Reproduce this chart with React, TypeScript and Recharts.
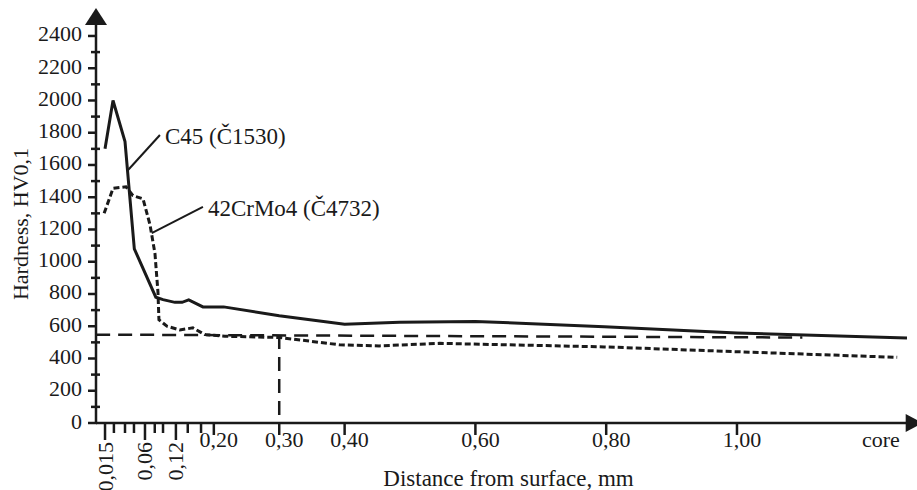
import { LineChart, Line, XAxis, YAxis, ReferenceLine, ReferenceDot } from "recharts"

// distances in mm, hardness in HV0,1
const C45_MM = [0.015, 0.024, 0.0375, 0.048, 0.081, 0.095, 0.118, 0.133, 0.147, 0.177, 0.215, 0.3, 0.4, 0.484, 0.6, 0.797, 1.0, 1.26]
const C45_HV = [1700, 2000, 1745, 1080, 780, 765, 748, 748, 763, 720, 720, 665, 612, 624, 630, 597, 558, 527]

const CRMO_MM = [0.014, 0.024, 0.0386, 0.0465, 0.0578, 0.0697, 0.0794, 0.0852, 0.0871, 0.1026, 0.1284, 0.1558, 0.181, 0.217, 0.301, 0.392, 0.453, 0.545, 0.797, 1.0, 1.245]
const CRMO_HV = [1300, 1455, 1465, 1410, 1390, 1230, 1050, 810, 640, 600, 577, 590, 548, 538, 530, 485, 478, 494, 472, 442, 407]

const LIMIT_MM = [0.005, 1.1]
const LIMIT_HV = [548, 530]

const X_LABELS = ["0,015", "0,06", "0,12", "0,20", "0,30", "0,40", "0,60", "0,80", "1,00", "core"]
const X_LABEL_MM = [0.015, 0.06, 0.12, 0.2, 0.3, 0.4, 0.6, 0.8, 1.0, 1.22]
const X_MINOR_MM = [0.025, 0.0375, 0.0476, 0.079, 0.095, 0.145, 0.173]
const Y_TICKS = Array.from({ length: 25 }, (_, i) => i * 100)

// the axis is stretched below 0,20 mm
const WARP_MM = [0.015, 0.06, 0.12, 0.2]
const WARP_POS = [0.0336, 0.0947, 0.142, 0.2]
function warp(mm: number) {
  if (mm >= 0.2) return mm
  let i = 0
  while (i < WARP_MM.length - 2 && mm > WARP_MM[i + 1]) i++
  const t = (mm - WARP_MM[i]) / (WARP_MM[i + 1] - WARP_MM[i])
  return WARP_POS[i] + t * (WARP_POS[i + 1] - WARP_POS[i])
}

const U_MIN = 0.0198
const U_MAX = 1.258
const Y_MAX = 2468
const INK = "#1a1a1a"
const FONT = "'Liberation Serif', 'Times New Roman', serif"

const toRows = (mm: number[], hv: number[]) => mm.map((m, i) => ({ u: warp(m), hv: hv[i] }))
const c45 = toRows(C45_MM, C45_HV)
const crmo = toRows(CRMO_MM, CRMO_HV)
const limit = toRows(LIMIT_MM, LIMIT_HV)

const xTicks = [...X_LABEL_MM, ...X_MINOR_MM].map(warp)

function XTick({ x, y, payload }: any) {
  const idx = X_LABEL_MM.findIndex((m) => Math.abs(warp(m) - payload.value) < 1e-6)
  const label = idx >= 0 ? X_LABELS[idx] : null
  const rotated = idx >= 0 && idx < 3
  if (label === "core") {
    return <text x={x} y={y + 24} textAnchor="middle" fontSize={22} fontFamily={FONT} fill={INK}>{label}</text>
  }
  const len = rotated ? 17 : label ? 12 : 10
  return (
    <g>
      <line x1={x} x2={x} y1={y} y2={y + len} stroke={INK} strokeWidth={2.5} />
      {label && rotated && (
        <text x={x} y={y + 19} transform={`rotate(-90 ${x} ${y + 19})`} textAnchor="end" dominantBaseline="central"
          fontSize={22} fontFamily={FONT} fill={INK}>{label}</text>
      )}
      {label && !rotated && (
        <text x={x + 5} y={y + 24} textAnchor="middle" fontSize={22} fontFamily={FONT} fill={INK}>{label}</text>
      )}
    </g>
  )
}

function YTick({ x, y, payload }: any) {
  const major = payload.value % 200 === 0
  return (
    <g>
      <line x1={major ? x - 8 : x - 5} x2={major ? x + 1 : x + 4} y1={y} y2={y} stroke={INK} strokeWidth={2.5} />
      {major && (
        <text x={x - 14} y={y - 2} textAnchor="end" dominantBaseline="central" fontSize={22} fontFamily={FONT} fill={INK}>
          {payload.value}
        </text>
      )}
    </g>
  )
}

const Note = (text: string) => (p: any) => (
  <text x={p.cx + 5} y={p.cy + 2} dominantBaseline="central" fontSize={23} fontFamily={FONT} fill={INK}>{text}</text>
)

export default function App() {
  return (
    <div style={{ position: "absolute", left: 0, top: 0, width: 917, height: 490, background: "#fff" }}>
      <LineChart width={917} height={490} margin={{ top: 25, right: 10, left: 0, bottom: 0 }}>
        <XAxis
          type="number"
          dataKey="u"
          domain={[U_MIN, U_MAX]}
          ticks={xTicks}
          interval={0}
          tick={<XTick />}
          tickLine={false}
          tickSize={0}
          tickMargin={0}
          height={67}
          axisLine={{ stroke: INK, strokeWidth: 2.5 }}
          label={{
            content: (p: any) => (
              <text x={p.viewBox.x + p.viewBox.width / 2 + 7} y={p.viewBox.y + 63} textAnchor="middle"
                fontSize={23} fontFamily={FONT} fill={INK}>Distance from surface, mm</text>
            ),
          }}
        />
        <YAxis
          type="number"
          domain={[0, Y_MAX]}
          ticks={Y_TICKS}
          interval={0}
          tick={<YTick />}
          tickLine={false}
          tickSize={0}
          tickMargin={0}
          width={96}
          axisLine={{ stroke: INK, strokeWidth: 2.5 }}
          label={{
            content: (p: any) => {
              const cx = p.viewBox.x + 20
              const cy = p.viewBox.y + p.viewBox.height / 2
              return (
                <text x={cx} y={cy} transform={`rotate(-90 ${cx} ${cy})`} textAnchor="middle" dominantBaseline="central"
                  fontSize={22} fontFamily={FONT} fill={INK}>Hardness, HV0,1</text>
              )
            },
          }}
        />
        <ReferenceLine
          segment={[{ x: warp(0.3), y: 545 }, { x: warp(0.3), y: 35 }]}
          stroke={INK}
          strokeWidth={2.5}
          strokeDasharray="14 8"
        />
        <ReferenceLine
          segment={[{ x: warp(0.041), y: 1569 }, { x: warp(0.089), y: 1786 }]}
          stroke={INK}
          strokeWidth={2}
        />
        <ReferenceLine
          segment={[{ x: warp(0.073), y: 1178 }, { x: warp(0.177), y: 1340 }]}
          stroke={INK}
          strokeWidth={2}
        />
        <Line data={limit} dataKey="hv" type="linear" stroke={INK} strokeWidth={2.5} strokeDasharray="14 8" dot={false} isAnimationActive={false} />
        <Line data={crmo} dataKey="hv" type="linear" stroke={INK} strokeWidth={3} strokeDasharray="6 3" dot={false} isAnimationActive={false} />
        <Line data={c45} dataKey="hv" type="linear" stroke={INK} strokeWidth={3} dot={false} isAnimationActive={false} />
        <ReferenceDot x={warp(0.089)} y={1786} r={0} shape={Note("C45 (Č1530)")} />
        <ReferenceDot x={warp(0.177)} y={1340} r={0} shape={Note("42CrMo4 (Č4732)")} />
        <ReferenceDot
          x={U_MIN}
          y={Y_MAX}
          r={0}
          shape={(p: any) => <polygon points={`${p.cx - 11},${p.cy} ${p.cx + 11},${p.cy} ${p.cx},${p.cy - 17}`} fill={INK} />}
        />
        <ReferenceDot
          x={U_MAX}
          y={0}
          r={0}
          shape={(p: any) => <polygon points={`${p.cx},${p.cy - 9} ${p.cx},${p.cy + 9} ${p.cx + 17},${p.cy}`} fill={INK} />}
        />
      </LineChart>
    </div>
  )
}
